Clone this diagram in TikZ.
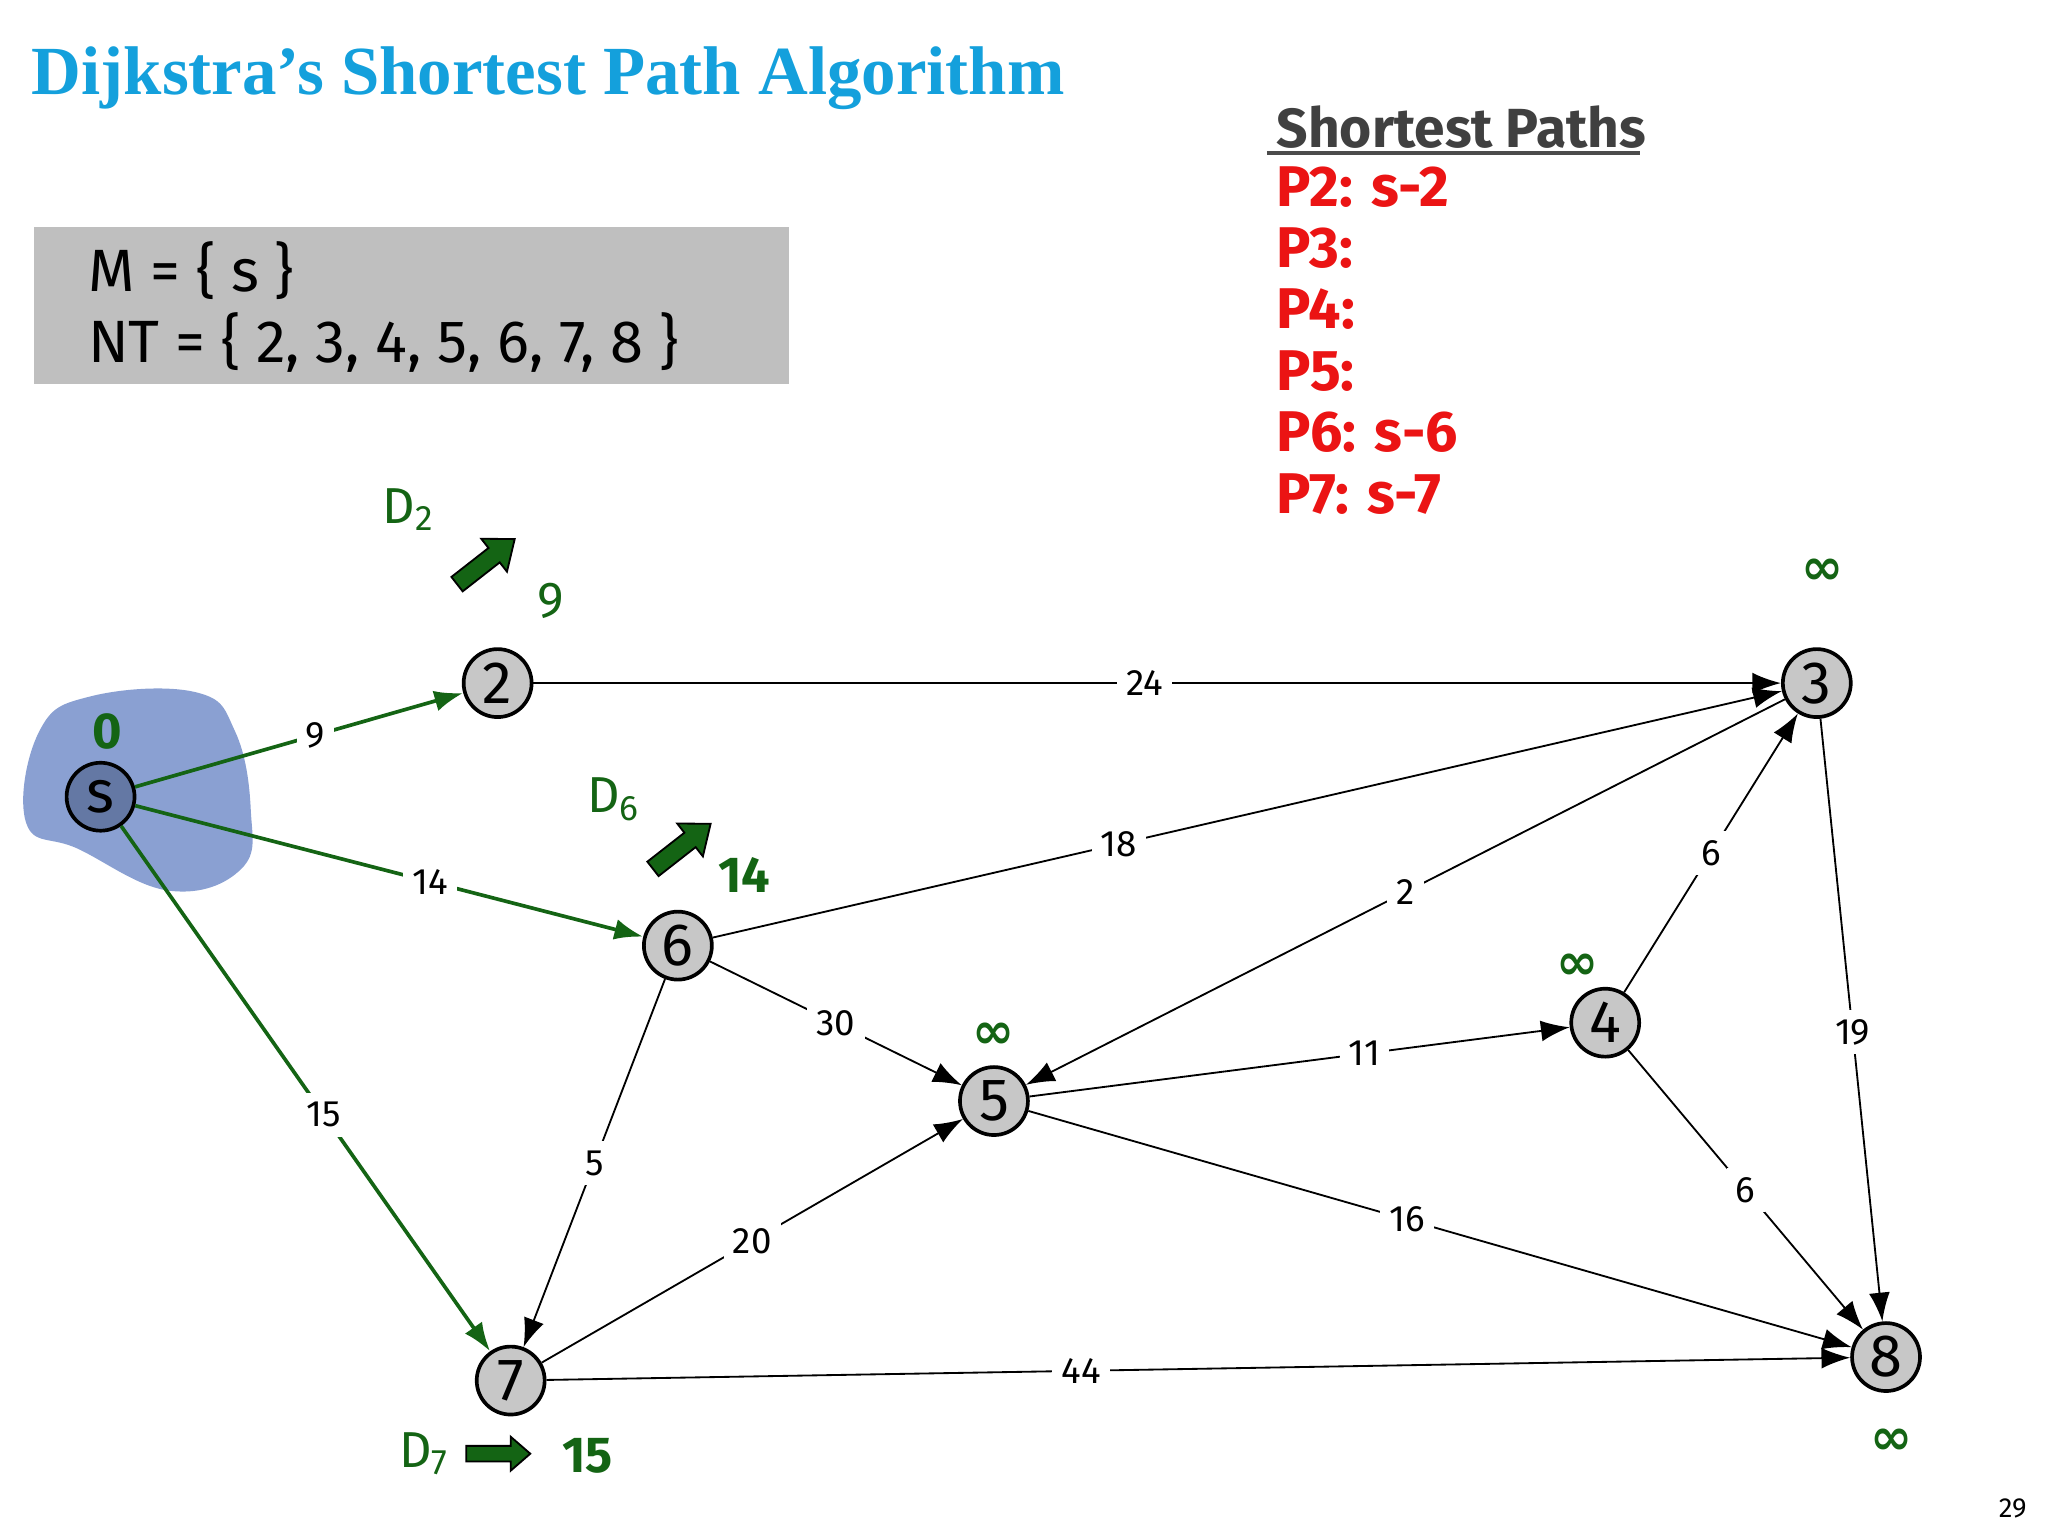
\documentclass[tikz,border=0pt]{standalone}
\usepackage{fontspec}
\setmainfont{Liberation Serif}
\newfontfamily\cfont{Fira Sans}
\newfontfamily\dvfont{DejaVu Sans}
\usetikzlibrary{arrows.meta}
\definecolor{titleblue}{RGB}{20,160,220}
\definecolor{dgreen}{RGB}{20,100,20}
\definecolor{pred}{RGB}{235,20,20}
\definecolor{blob}{RGB}{125,150,205}
\begin{document}
\begin{tikzpicture}[x=0.01cm,y=-0.01cm,
  vert/.style={circle,draw=black,thick,fill=black!22,minimum size=0.52cm,inner sep=0pt,font=\cfont\fontsize{13}{13}\selectfont},
  edge/.style={-{Latex[length=2.2mm,width=1.6mm]},thin},
  gedge/.style={edge,draw=dgreen,thick},
  wl/.style={fill=white,inner sep=2pt,font=\cfont\fontsize{8}{8}\selectfont},
  inf/.style={text=dgreen,font=\dvfont\fontsize{11}{11}\selectfont\bfseries},
  glab/.style={text=dgreen,font=\cfont\fontsize{11}{11}\selectfont},
  fatarrow/.style={fill=dgreen,draw=black,thin},
  pl/.style={anchor=west,text=pred,font=\cfont\fontsize{12.5}{13}\selectfont\bfseries}]
\useasboundingbox (0,0) rectangle (1568,1176);
\node[anchor=west,text=titleblue,font=\fontsize{15}{15}\selectfont\bfseries] (title) at (12,60) {Dijkstra{\char"0027}s Shortest Path Algorithm};
\fill[black!25] (26,174) rectangle (604,294);
\node[anchor=west,font=\cfont\fontsize{13}{13}\selectfont] (m) at (55,207) {M = \{ s \}};
\node[anchor=west,font=\cfont\fontsize{13}{13}\selectfont] (nt) at (55,262) {NT = \{ 2, 3, 4, 5, 6, 7, 8 \}};
\node[anchor=west,text=black!75,font=\cfont\fontsize{12}{12}\selectfont\bfseries] (sp) at (965,97) {Shortest Paths};
\draw[black!70,thick] (970,117) -- (1256,117);
\node[pl] (p2) at (965,143) {P2: s-2};
\node[pl] (p3) at (965,190) {P3:};
\node[pl] (p4) at (965,237) {P4:};
\node[pl] (p5) at (965,284) {P5:};
\node[pl] (p6) at (965,331) {P6: s-6};
\node[pl] (p7) at (965,378) {P7: s-7};
\fill[blob,opacity=0.9] plot[smooth cycle,tension=0.7] coordinates {(30,560) (70,533) (150,530) (180,560) (192,620) (185,665) (130,682) (60,650) (20,630)};
\node[vert,fill=blob!80!black] (s) at (77,610) {s};
\node[vert] (n2) at (381,523) {2};
\node[vert] (n3) at (1391,523) {3};
\node[vert] (n6) at (519,724) {6};
\node[vert] (n4) at (1229,783) {4};
\node[vert] (n5) at (761,843) {5};
\node[vert] (n7) at (391,1057) {7};
\node[vert] (n8) at (1444,1039) {8};
\draw[gedge] (s) -- node[wl,pos=0.55]{9} (n2);
\draw[gedge] (s) -- node[wl,pos=0.58]{14} (n6);
\draw[gedge] (s) -- node[wl,pos=0.55]{15} (n7);
\draw[edge] (n2) -- node[wl,pos=0.49]{24} (n3);
\draw[edge] (n6) -- node[wl,pos=0.38]{18} (n3);
\draw[edge] (n3) -- node[wl,pos=0.5]{2} (n5);
\draw[edge] (n6) -- node[wl,pos=0.5]{30} (n5);
\draw[edge] (n4) -- node[wl,pos=0.5]{6} (n3);
\draw[edge] (n5) -- node[wl,pos=0.62]{11} (n4);
\draw[edge] (n3) -- node[wl,pos=0.52]{19} (n8);
\draw[edge] (n4) -- node[wl,pos=0.5]{6} (n8);
\draw[edge] (n5) -- node[wl,pos=0.46]{16} (n8);
\draw[edge] (n6) -- node[wl,pos=0.5]{5} (n7);
\draw[edge] (n7) -- node[wl,pos=0.5]{20} (n5);
\draw[edge] (n7) -- node[wl,pos=0.41]{44} (n8);
\node[glab] (d2) at (313,390) {D\textsubscript{2}};
\draw[fatarrow,shift={(372,430)},rotate=38] (-28,-7) -- (8,-7) -- (8,-16) -- (28,0) -- (8,16) -- (8,7) -- (-28,7) -- cycle;
\node[glab] (v2) at (422,460) {9};
\node[glab] (d6) at (470,612) {D\textsubscript{6}};
\draw[fatarrow,shift={(522,648)},rotate=38] (-28,-7) -- (8,-7) -- (8,-16) -- (28,0) -- (8,16) -- (8,7) -- (-28,7) -- cycle;
\node[glab,font=\cfont\fontsize{11}{11}\selectfont\bfseries] (v6) at (570,670) {14};
\node[glab] (d7) at (325,1113) {D\textsubscript{7}};
\draw[fatarrow,shift={(381,1113)}] (-24,-6) -- (10,-6) -- (10,-13) -- (25,0) -- (10,13) -- (10,6) -- (-24,6) -- cycle;
\node[glab,font=\cfont\fontsize{11}{11}\selectfont\bfseries] (v7) at (450,1115) {15};
\node[glab,font=\cfont\fontsize{11}{11}\selectfont\bfseries] (v0) at (82,560) {0};
\node[inf] (i3) at (1395,438) {∞};
\node[inf] (i4) at (1208,740) {∞};
\node[inf] (i5) at (761,793) {∞};
\node[inf] (i8) at (1448,1104) {∞};
\node[font=\cfont\fontsize{6}{6}\selectfont] (pg) at (1541,1155) {29};
\end{tikzpicture}
\end{document}
